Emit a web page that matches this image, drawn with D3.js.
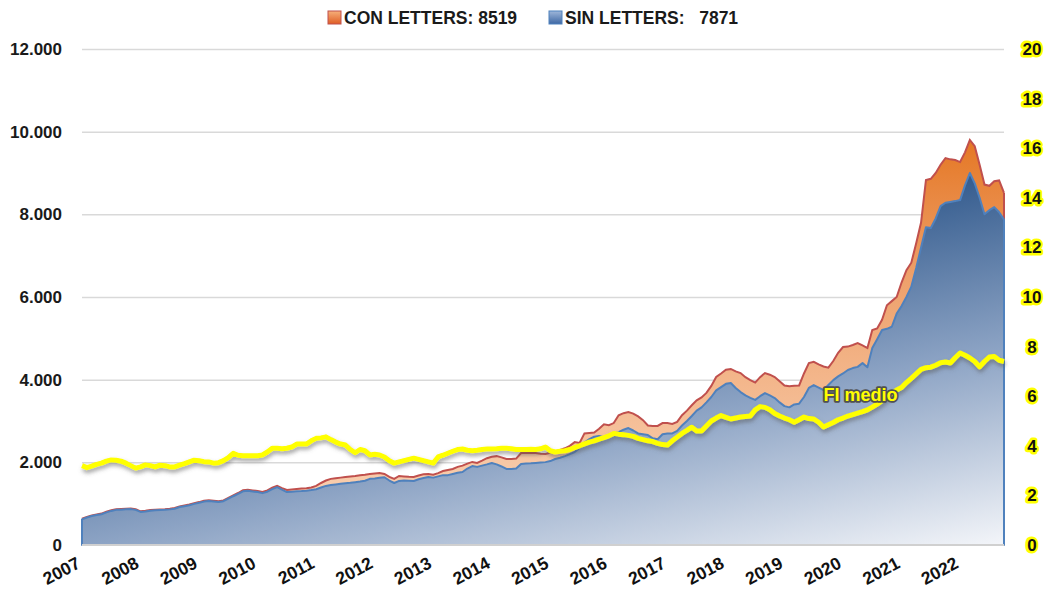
<!DOCTYPE html>
<html>
<head>
<meta charset="utf-8">
<script src="https://cdn.jsdelivr.net/npm/d3@7"></script>
<style>
  body { margin: 0; background: #fff; }
  text { font-family: "Liberation Sans", Arial, sans-serif; font-weight: bold; }
</style>
</head>
<body>
<svg id="chart" width="1047" height="590"></svg>
<script>
// monthly values, 2007-01 .. 2022-10
var conLetters = [
  635, 680, 715, 740, 760, 805, 840, 865, 870, 877, 882, 865,
  815, 827, 845, 853, 860, 866, 878, 895, 935, 958, 980, 1012,
  1038, 1068, 1083, 1073, 1058, 1080, 1140, 1200, 1258, 1325, 1335, 1320,
  1305, 1282, 1320, 1385, 1430, 1375, 1330, 1345, 1355, 1365, 1375, 1390,
  1430, 1500, 1560, 1600, 1615, 1630, 1645, 1660, 1670, 1690, 1700, 1720,
  1730, 1740, 1720, 1650, 1600, 1670, 1660, 1650, 1645, 1680, 1710, 1720,
  1700, 1740, 1790, 1815, 1840, 1890, 1920, 1970, 2010, 1985, 2040, 2100,
  2135, 2150, 2120, 2080, 2080, 2090, 2225, 2225, 2225, 2225, 2210, 2200,
  2230, 2260, 2300, 2340, 2400, 2490, 2470, 2700, 2710, 2720, 2810, 2920,
  2900, 2950, 3140, 3190, 3215, 3180, 3110, 3020, 2890, 2880, 2880, 2950,
  2950, 2930, 2980, 3140, 3250, 3380, 3500, 3570, 3680, 3850, 4065, 4150,
  4240, 4260, 4200, 4160, 4060, 3990, 3930, 4060, 4160, 4120, 4065, 3960,
  3860, 3840, 3850, 3860, 4150, 4400, 4430, 4370, 4320, 4290, 4450, 4650,
  4790, 4800, 4840, 4885, 4830, 4765, 5200, 5240, 5450, 5800, 5900, 6000,
  6350, 6650, 6830, 7300, 7800, 8830, 8860, 9000, 9200, 9360, 9330, 9315,
  9265, 9500, 9800, 9650, 9200, 8720, 8690, 8800, 8820, 8519
];
var sinLetters = [
  620, 665, 700, 725, 745, 790, 825, 850, 855, 862, 868, 850,
  800, 812, 830, 838, 845, 850, 862, 878, 918, 940, 962, 995,
  1020, 1050, 1065, 1055, 1040, 1060, 1120, 1180, 1235, 1300, 1310, 1295,
  1280, 1255, 1290, 1350, 1400, 1340, 1280, 1290, 1300, 1305, 1315, 1330,
  1350, 1390, 1430, 1450, 1465, 1480, 1495, 1505, 1520, 1535, 1555, 1600,
  1610, 1625, 1640, 1560, 1500, 1550, 1560, 1555, 1550, 1590, 1620, 1645,
  1630, 1660, 1690, 1690, 1720, 1750, 1765, 1850, 1910, 1890, 1920, 1950,
  1985, 1950, 1900, 1840, 1840, 1850, 1960, 1970, 1975, 1985, 1995, 2005,
  2030, 2080, 2110, 2150, 2200, 2250, 2350, 2480, 2560, 2620, 2640, 2610,
  2630, 2700, 2730, 2790, 2830, 2770, 2700, 2680, 2660, 2580, 2560, 2680,
  2700, 2700, 2760, 2890, 3000, 3120, 3250, 3330, 3450, 3580, 3740, 3820,
  3900, 3920, 3800, 3700, 3620, 3560, 3510, 3600, 3675, 3620, 3555, 3450,
  3360, 3330, 3400, 3420, 3580, 3800, 3870, 3810, 3750, 3870, 3990, 4080,
  4150, 4235, 4280, 4310, 4400, 4300, 4765, 4980, 5200, 5230, 5280, 5600,
  5780, 6000, 6250, 6700, 7200, 7690, 7670, 7900, 8200, 8280, 8300, 8320,
  8345, 8700, 9000, 8750, 8400, 8000, 8100, 8175, 8050, 7871
];
var fiMedio = [
  3.2, 3.12, 3.18, 3.25, 3.3, 3.38, 3.43, 3.42, 3.38, 3.3, 3.2, 3.1,
  3.15, 3.23, 3.2, 3.15, 3.22, 3.2, 3.15, 3.15, 3.22, 3.28, 3.35, 3.42,
  3.4, 3.36, 3.35, 3.3, 3.32, 3.4, 3.52, 3.7, 3.62, 3.6, 3.6, 3.6,
  3.6, 3.63, 3.75, 3.9, 3.9, 3.88, 3.9, 3.95, 4.07, 4.07, 4.07, 4.2,
  4.3, 4.32, 4.36, 4.25, 4.15, 4.07, 4.03, 3.85, 3.72, 3.85, 3.8, 3.63,
  3.66, 3.63, 3.55, 3.4, 3.3, 3.35, 3.4, 3.45, 3.5, 3.45, 3.4, 3.35,
  3.3, 3.55, 3.62, 3.7, 3.78, 3.85, 3.87, 3.82, 3.8, 3.82, 3.85, 3.87,
  3.87, 3.88, 3.9, 3.9, 3.88, 3.85, 3.85, 3.85, 3.86, 3.85, 3.88, 3.95,
  3.8, 3.75, 3.78, 3.8, 3.85, 3.93, 4.0, 4.08, 4.15, 4.2, 4.27, 4.33,
  4.4, 4.5, 4.47, 4.45, 4.42, 4.38, 4.3, 4.25, 4.2, 4.17, 4.1, 4.05,
  4.03, 4.2, 4.35, 4.5, 4.62, 4.75, 4.6, 4.6, 4.8, 5.0, 5.12, 5.22,
  5.15, 5.08, 5.12, 5.16, 5.18, 5.2, 5.45, 5.58, 5.55, 5.45, 5.3, 5.2,
  5.12, 5.05, 4.95, 5.05, 5.16, 5.1, 5.08, 4.95, 4.76, 4.85, 4.94, 5.05,
  5.12, 5.2, 5.26, 5.32, 5.38, 5.45, 5.56, 5.68, 5.82, 5.98, 6.12, 6.25,
  6.35, 6.55, 6.72, 6.9, 7.08, 7.15, 7.17, 7.25, 7.35, 7.38, 7.34, 7.55,
  7.74, 7.65, 7.54, 7.4, 7.18, 7.4, 7.58, 7.6, 7.45, 7.4
];
var years = ["2007", "2008", "2009", "2010", "2011", "2012", "2013", "2014",
             "2015", "2016", "2017", "2018", "2019", "2020", "2021", "2022"];
var leftTicks = [0, 2000, 4000, 6000, 8000, 10000, 12000];
var rightTicks = [0, 2, 4, 6, 8, 10, 12, 14, 16, 18, 20];
var legendItems = ["CON LETTERS: 8519", "SIN LETTERS:\u00a0\u00a0 7871"];

var svg = d3.select("#chart");
var n = sinLetters.length;

var x = d3.scaleLinear().domain([0, n - 1]).range([82, 1004]);
var y = d3.scaleLinear().domain([0, 12000]).range([545, 49]);
var y2 = d3.scaleLinear().domain([0, 20]).range([545, 49]);

var defs = svg.append("defs");

// fills
var gOr = defs.append("linearGradient").attr("id", "gOr")
  .attr("gradientUnits", "userSpaceOnUse")
  .attr("x1", 0).attr("y1", 130).attr("x2", 0).attr("y2", 545);
gOr.append("stop").attr("offset", 0).attr("stop-color", "#e4741f");
gOr.append("stop").attr("offset", 0.35).attr("stop-color", "#eea06a");
gOr.append("stop").attr("offset", 1).attr("stop-color", "#fbd9bf");

var gBl = defs.append("linearGradient").attr("id", "gBl")
  .attr("gradientUnits", "userSpaceOnUse")
  .attr("x1", 952).attr("y1", 162).attr("x2", 1033).attr("y2", 538);
gBl.append("stop").attr("offset", 0).attr("stop-color", "#2c5589");
gBl.append("stop").attr("offset", 0.5).attr("stop-color", "#8ca3c4");
gBl.append("stop").attr("offset", 1).attr("stop-color", "#f3f5f9");

// legend markers
var lgO = defs.append("linearGradient").attr("id", "lgO").attr("x1", 0).attr("y1", 0).attr("x2", 0).attr("y2", 1);
lgO.append("stop").attr("offset", 0).attr("stop-color", "#f6b07a");
lgO.append("stop").attr("offset", 1).attr("stop-color", "#df5d25");
var lgB = defs.append("linearGradient").attr("id", "lgB").attr("x1", 0).attr("y1", 0).attr("x2", 0).attr("y2", 1);
lgB.append("stop").attr("offset", 0).attr("stop-color", "#9fb7da");
lgB.append("stop").attr("offset", 1).attr("stop-color", "#3d67a3");

var shadow = defs.append("filter").attr("id", "shadow")
  .attr("x", "-5%").attr("y", "-20%").attr("width", "110%").attr("height", "140%");
shadow.append("feDropShadow").attr("dx", 1).attr("dy", 3).attr("stdDeviation", 2)
  .attr("flood-color", "#555").attr("flood-opacity", 0.55);

// gridlines
svg.append("g")
  .attr("transform", "translate(82,0)")
  .call(d3.axisLeft(y).tickValues(leftTicks.slice(1)).tickSize(-922).tickFormat(""))
  .call(function (g) {
    g.select(".domain").remove();
    g.selectAll("line").attr("stroke", "#d9d9d9").attr("stroke-width", 1.5);
  });

var areaCon = d3.area().x(function (d, i) { return x(i); }).y0(y(0)).y1(function (d) { return y(d); });
var lineTop = d3.line().x(function (d, i) { return x(i); }).y(function (d) { return y(d); });

svg.append("path").datum(conLetters).attr("d", areaCon).attr("fill", "url(#gOr)");
svg.append("path").datum(conLetters).attr("d", lineTop)
  .attr("fill", "none").attr("stroke", "#c0504d").attr("stroke-width", 2);
// right edge of the orange series
svg.append("line")
  .attr("x1", x(n - 1)).attr("x2", x(n - 1))
  .attr("y1", y(conLetters[n - 1])).attr("y2", y(sinLetters[n - 1]))
  .attr("stroke", "#c0504d").attr("stroke-width", 2);

svg.append("path").datum(sinLetters).attr("d", areaCon)
  .attr("fill", "url(#gBl)").attr("stroke", "#4f81bd").attr("stroke-width", 2)
  .attr("stroke-linejoin", "round");

// bottom axis line
svg.append("line").attr("x1", 82).attr("x2", 1004).attr("y1", y(0)).attr("y2", y(0))
  .attr("stroke", "#d0d0d0").attr("stroke-width", 2);

// FI medio line
var lineFi = d3.line().x(function (d, i) { return x(i); }).y(function (d) { return y2(d); });
svg.append("path").datum(fiMedio).attr("d", lineFi)
  .attr("fill", "none").attr("stroke", "#ffff00").attr("stroke-width", 5)
  .attr("stroke-linejoin", "round").attr("filter", "url(#shadow)");

svg.append("text")
  .attr("x", x(152)).attr("y", y2(5.8))
  .attr("font-size", 18).attr("fill", "#ffff00")
  .attr("stroke", "#505050").attr("stroke-width", 3.5)
  .attr("paint-order", "stroke").attr("stroke-linejoin", "round")
  .text("FI medio");

// left axis
var fmt = function (d) { return d3.format(",")(d).replace(/,/g, "."); };
svg.append("g")
  .attr("transform", "translate(62,0)")
  .call(d3.axisLeft(y).tickValues(leftTicks).tickSize(0).tickPadding(0).tickFormat(fmt))
  .call(function (g) {
    g.select(".domain").remove();
    g.selectAll("text").attr("font-size", 17).attr("fill", "#1a1a1a")
      .attr("font-family", "'Liberation Sans', Arial, sans-serif").attr("font-weight", "bold");
  });

// right axis
svg.append("g")
  .attr("transform", "translate(1032,0)")
  .call(d3.axisRight(y2).tickValues(rightTicks).tickSize(0).tickPadding(0))
  .call(function (g) {
    g.select(".domain").remove();
    g.selectAll("text").attr("text-anchor", "middle").attr("font-size", 17).attr("fill", "#111")
      .attr("font-family", "'Liberation Sans', Arial, sans-serif").attr("font-weight", "bold")
      .attr("stroke", "#ffff00").attr("stroke-width", 5).attr("paint-order", "stroke")
      .attr("stroke-linejoin", "round");
  });

// year labels
svg.append("g").selectAll("text")
  .data(years)
  .join("text")
  .attr("transform", function (d, i) {
    return "translate(" + (x(i * 12) - 0.5) + ",567) rotate(-28)";
  })
  .attr("text-anchor", "end")
  .attr("font-size", 17.5).attr("fill", "#111")
  .text(function (d) { return d; });

// legend
var lg = svg.append("g");
var lgX = [328, 549];
legendItems.forEach(function (t, i) {
  lg.append("rect").attr("x", lgX[i]).attr("y", 11).attr("width", 13).attr("height", 13)
    .attr("fill", i === 0 ? "url(#lgO)" : "url(#lgB)")
    .attr("stroke", i === 0 ? "#c0504d" : "#4f81bd").attr("stroke-width", 1);
  lg.append("text").attr("x", lgX[i] + 16).attr("y", 24)
    .attr("font-size", 17.5).attr("fill", "#1a1a1a").text(t);
});
</script>
</body>
</html>
